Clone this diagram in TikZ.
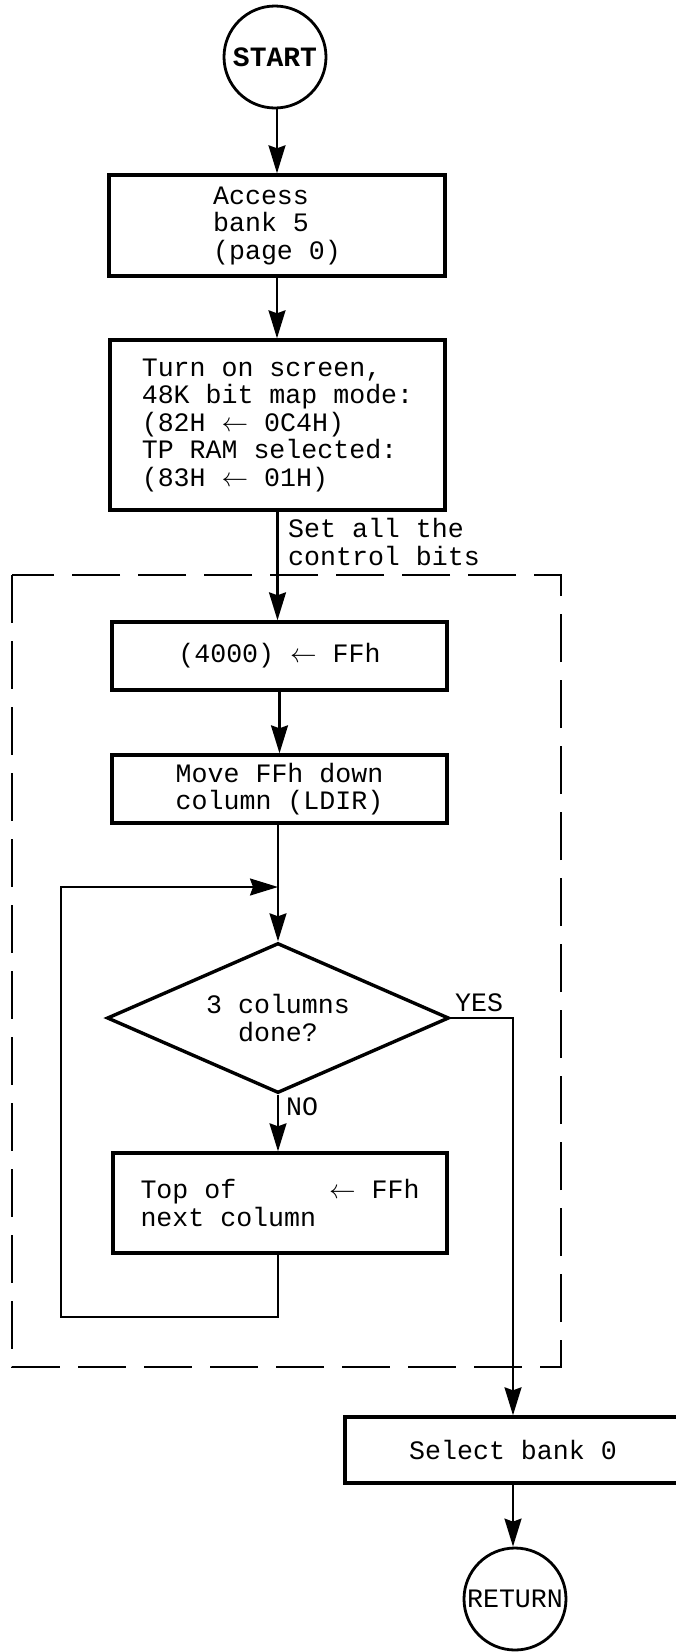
\RequirePackage{fix-cm}
\documentclass[tikz,border=0pt]{standalone}
\usepackage{fontspec}
\newfontfamily\tw{Liberation Mono}[WordSpace={1,0,0}]
\usetikzlibrary{arrows.meta,shapes.geometric}
\begin{document}
\begin{tikzpicture}[x=1pt,y=-1pt,
  every node/.style={font=\fontsize{26.6}{27.5}\selectfont\tw, inner sep=0pt},
  box/.style={draw, rectangle, line width=3.4pt},
  term/.style={draw, circle, line width=2.8pt, minimum size=102pt},
  conn/.style={line width=2.1pt},
  arr/.style={conn, -{Stealth[length=28pt,width=17pt,inset=3pt]}},
  dashbox/.style={line width=2.4pt, dash pattern=on 48pt off 18pt}
]
\useasboundingbox (0,0) rectangle (676,1652);

% dashed group
\draw[dashbox] (12,575) rectangle (561,1367);

% nodes
\node[term, font=\fontsize{28}{28}\selectfont\tw\bfseries] (start) at (275,57) {START};
\node[box, minimum width=336pt, minimum height=101pt, align=left] (b1) at (277,225.5) {Access\\bank 5\\(page 0)};
\node[box, minimum width=335pt, minimum height=170pt, align=left] (b2) at (277.5,425) {Turn on screen,\\48K bit map mode:\\(82H $\leftarrow$ 0C4H)\\TP RAM selected:\\(83H $\leftarrow$ 01H)};
\node[box, minimum width=335pt, minimum height=68pt] (b3) at (279.5,656) {(4000) $\leftarrow$ FFh};
\node[box, minimum width=335pt, minimum height=68pt, align=center] (b4) at (279.5,789) {Move FFh down\\column (LDIR)};
\node[draw, diamond, aspect=2.28, line width=3.4pt, minimum width=342pt, minimum height=150pt, align=center] (dia) at (278,1018) {3 columns\\done?};
\node[box, minimum width=334pt, minimum height=100pt, align=left] (b5) at (280,1203) {\makebox[279pt][l]{Top of\hfill$\leftarrow$ FFh}\\next column};
\node[box, minimum width=336pt, minimum height=66pt] (sel) at (513,1450) {Select bank 0};
\node[term] (ret) at (515,1599) {RETURN};

% labels
\node[anchor=west, align=left] (setl) at (288,542) {Set all the\\control bits};
\node[anchor=base west] (yes) at (455,1011) {YES};
\node[anchor=base west] (no) at (286,1115) {NO};

% connectors
\draw[arr] (b1.north |- start.south) -- (b1.north);
\draw[arr] (b1.south) -- (b1.south |- b2.north);
\draw[arr] (b2.south) -- (b2.south |- b3.north);
\draw[arr] (b3.south) -- (b3.south |- b4.north);
\draw[arr] (dia.north |- b4.south) -- (dia.north);
\draw[arr] (dia.south) -- (dia.south |- b5.north);
\coordinate (lb) at (278,1317);
\coordinate (lt) at (61,887);
\draw[arr] (dia.south |- b5.south) -- (dia.south |- lb) -| (lt) -- (dia.north |- lt);
\draw[arr] (dia.east) -| (sel.north);
\draw[arr] (sel.south) -- (sel.south |- ret.north);
\end{tikzpicture}
\end{document}
